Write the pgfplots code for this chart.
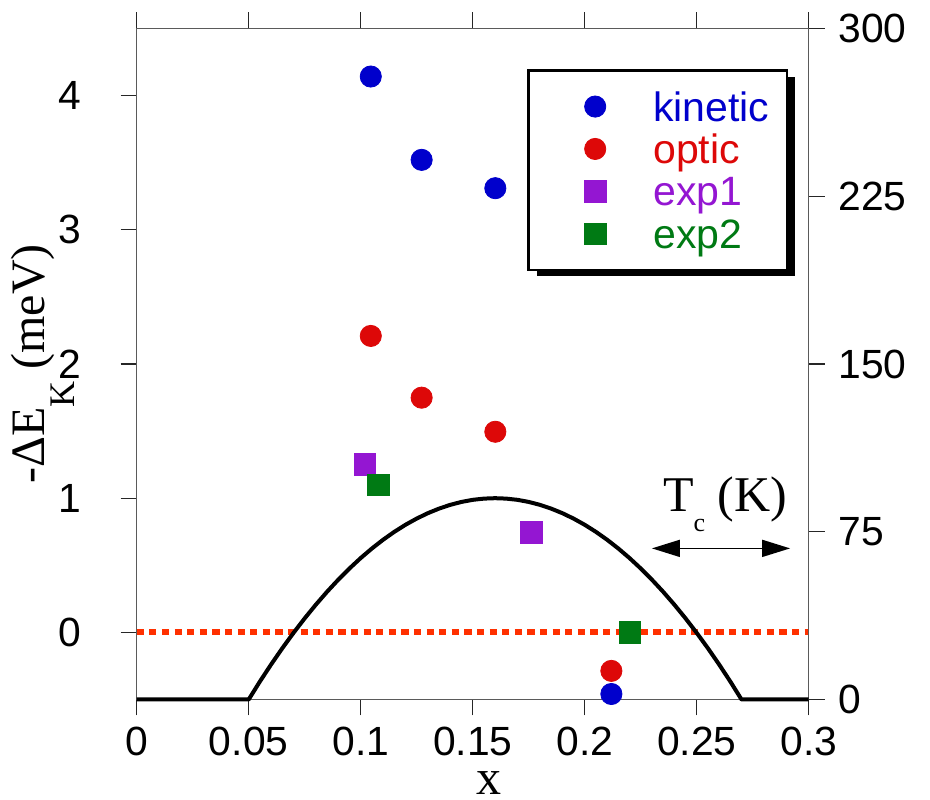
\documentclass[border=0pt]{standalone}
\usepackage{fontspec}
\setmainfont{Liberation Serif}
\newfontfamily\sansf{Liberation Sans}
\usepackage{pgfplots}
\pgfplotsset{compat=1.18}
\usetikzlibrary{arrows.meta,shadows}
\definecolor{kblue}{RGB}{0,0,204}
\definecolor{ored}{RGB}{221,8,8}
\definecolor{epurple}{RGB}{148,22,210}
\definecolor{egreen}{RGB}{0,122,20}
\definecolor{dotred}{RGB}{255,48,0}
\definecolor{axgray}{RGB}{90,90,90}
\pgfplotsset{
 myleg/.style={legend image code/.code={\path (0pt,0pt) (30pt,0pt); \draw[##1] plot coordinates {(24pt,0pt)};}},
}
\begin{document}
\begin{tikzpicture}
\begin{axis}[name=ax, scale only axis, width=336pt, height=335.5pt,
 xmin=0, xmax=0.3, ymin=-0.5, ymax=4.5,
 xtick={0,0.05,0.1,0.15,0.2,0.25,0.3},
 xticklabels={0,0.05,0.1,0.15,0.2,0.25,0.3},
 ytick={0,1,2,3,4}, yticklabels={0,1,2,3,4},
 xtick pos=both, xticklabel pos=lower, ytick pos=left,
 tick align=outside, major tick length=8pt,
 every tick/.style={black!85, line width=0.6pt},
 axis line style={axgray, line width=0.6pt},
 tick label style={font=\sansf\fontsize{20.4}{24}\selectfont, inner sep=0pt},
 xticklabel style={anchor=north, yshift=-5.8pt},
 yticklabel style={anchor=east, xshift=-19.35pt},
 /pgf/number format/assume math mode=true,
 clip=false,
 legend cell align=left,
 legend style={at={(axis cs:0.2909,4.197)}, anchor=north east, draw=black, line width=1.3pt, fill=white,
   drop shadow={shadow xshift=4.2pt, shadow yshift=-3.3pt, fill=black, opacity=1},
   font=\sansf\fontsize{20.5}{24}\selectfont,
   inner xsep=8.8pt, inner ysep=10.8pt, row sep=6.7pt, column sep=22.35pt,
   nodes={inner sep=0pt, text height=14.5pt, text depth=0pt}},
]
\addplot[forget plot, color=dotred, line width=3pt, dash pattern=on 3.6pt off 2.7pt] coordinates {(0,0) (0.3,0)};
\addplot[only marks, mark=*, color=kblue, mark size=5.3pt, mark options={line width=0.4pt}, myleg]
 coordinates {(0.1045,4.142) (0.1272,3.521) (0.1601,3.310) (0.2119,-0.459)};
\addlegendentry{\textcolor{kblue}{kinetic}}
\addplot[only marks, mark=*, color=ored, mark size=5.3pt, mark options={line width=0.4pt}, myleg]
 coordinates {(0.1045,2.209) (0.1272,1.749) (0.1601,1.495) (0.2119,-0.287)};
\addlegendentry{\textcolor{ored}{optic}}
\addplot[only marks, mark=square*, color=epurple, mark size=5.4pt, mark options={line width=0.4pt}, myleg]
 coordinates {(0.1019,1.252) (0.1763,0.744)};
\addlegendentry{\textcolor{epurple}{exp1}}
\addplot[only marks, mark=square*, color=egreen, mark size=5.4pt, mark options={line width=0.4pt}, myleg]
 coordinates {(0.1080,1.098) (0.2202,0.0)};
\addlegendentry{\textcolor{egreen}{exp2}}
\node[anchor=base, inner sep=0pt, font=\fontsize{25}{30}\selectfont] at ([yshift=-47.3pt]axis cs:0.1573,-0.5) {x};
\node[anchor=base west, font=\fontsize{25}{30}\selectfont, inner sep=0pt] at (axis cs:0.2348,0.899) {T\raisebox{-10pt}{\fontsize{13}{13}\selectfont c} (K)};
\draw[{Triangle[length=14pt,width=8.5pt]}-{Triangle[length=14pt,width=8.5pt]}, line width=0.8pt] (axis cs:0.2300,0.626) -- (axis cs:0.2917,0.626);
\end{axis}
\begin{axis}[at={(ax.south west)}, anchor=south west, scale only axis, width=336pt, height=335.5pt,
 xmin=0, xmax=0.3, ymin=0, ymax=300,
 axis y line*=right, axis x line=none,
 ytick={0,75,150,225,300}, yticklabels={0,75,150,225,300},
 tick align=outside, major tick length=8pt,
 every tick/.style={black!85, line width=0.6pt},
 axis line style={axgray, line width=0.6pt},
 tick label style={font=\sansf\fontsize{20.4}{24}\selectfont, inner sep=0pt},
 yticklabel style={anchor=west, xshift=6.65pt},
 /pgf/number format/assume math mode=true,
 clip=false,
]
\addplot[black, line width=2pt, line join=round] coordinates {
(0,0) (0.05,0) (0.055,8.04) (0.06,15.66) (0.065,22.91) (0.07,29.78) (0.075,36.29) (0.08,42.42)
(0.085,48.18) (0.09,53.57) (0.095,58.59) (0.1,63.24) (0.105,67.51) (0.11,71.42) (0.115,74.95)
(0.12,78.11) (0.125,80.89) (0.13,83.31) (0.135,85.35) (0.14,87.03) (0.145,88.33) (0.15,89.26)
(0.155,89.81) (0.16,90) (0.165,89.81) (0.17,89.26) (0.175,88.33) (0.18,87.03) (0.185,85.35)
(0.19,83.31) (0.195,80.89) (0.2,78.11) (0.205,74.95) (0.21,71.42) (0.215,67.51) (0.22,63.24)
(0.225,58.59) (0.23,53.57) (0.235,48.18) (0.24,42.42) (0.245,36.29) (0.25,29.78) (0.255,22.91)
(0.26,15.66) (0.265,8.04) (0.27,0) (0.3,0)};
\end{axis}
\node[rotate=90, anchor=base, font=\fontsize{24}{28}\selectfont] at ([xshift=-45.85pt, yshift=167.75pt]ax.south west) {-ΔE\raisebox{-15pt}{\fontsize{18}{18}\selectfont K} (meV)};
\pgfresetboundingbox
\useasboundingbox ([shift={(-68.35pt,-49.8pt)}]ax.south west) rectangle ([shift={(60.65pt,14.25pt)}]ax.north east);
\end{tikzpicture}
\end{document}
